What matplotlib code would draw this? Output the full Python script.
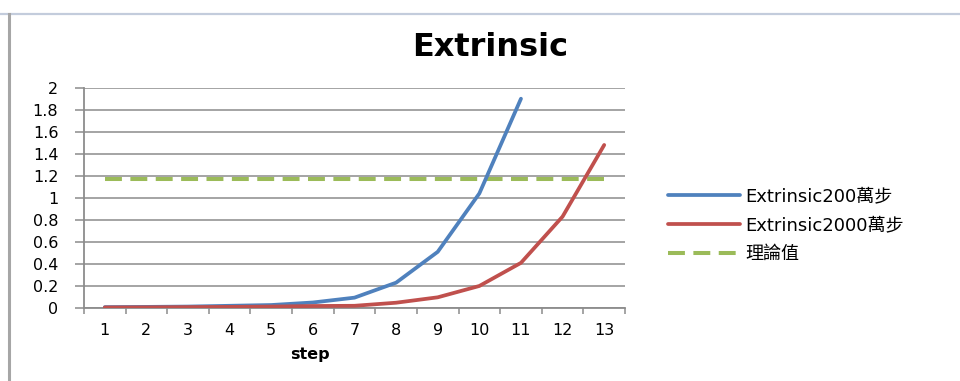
import numpy as np
import matplotlib
matplotlib.use("Agg")
import matplotlib.pyplot as plt
from matplotlib.lines import Line2D
from matplotlib.ticker import FixedLocator

plt.rcParams['font.family'] = ['DejaVu Sans', 'Noto Sans CJK TC']

steps = [str(i) for i in range(1, 14)]
ext_200 = [0.008, 0.01, 0.013, 0.02, 0.027, 0.05, 0.094, 0.23, 0.51, 1.04, 1.90]
ext_2000 = [0.005, 0.006, 0.008, 0.01, 0.013, 0.018, 0.02, 0.048, 0.097, 0.2, 0.41, 0.83, 1.48]
theory = [1.17] * 13
y_ticks = [0, 0.2, 0.4, 0.6, 0.8, 1, 1.2, 1.4, 1.6, 1.8, 2]
series_names = ["Extrinsic200萬步", "Extrinsic2000萬步", "理論值"]

BLUE = "#4F81BD"
RED = "#C0504D"
GREEN = "#9BBB59"
GRID = "#8C8C8C"

W, H = 960, 381
fig = plt.figure(figsize=(9.6, 3.81), dpi=100)
ax = fig.add_axes([84 / W, 1 - 308 / H, (625 - 84) / W, (308 - 87.7) / H])

x = np.arange(len(steps))
ax.plot(x[:len(ext_200)], ext_200, color=BLUE, lw=2.7, solid_capstyle="round",
        label=series_names[0], zorder=3)
ax.plot(x, ext_2000, color=RED, lw=2.7, solid_capstyle="round",
        label=series_names[1], zorder=3)
ax.plot(x, theory, color=GREEN, lw=2.9, dashes=(4.2, 2.1),
        label=series_names[2], zorder=2)

ax.set_xlim(-0.5, len(steps) - 0.5)
ax.set_ylim(0, 2)
ax.set_yticks(y_ticks)
ax.set_yticklabels(["%g" % v for v in y_ticks])
ax.grid(axis="y", color=GRID, lw=1.1)
ax.set_axisbelow(True)

ax.set_xticks(x)
ax.set_xticklabels(steps)
ax.xaxis.set_minor_locator(FixedLocator(np.arange(-0.5, len(steps), 1)))
ax.tick_params(axis="x", which="major", length=0, pad=11, labelsize=11.5, colors="black")
ax.tick_params(axis="x", which="minor", length=4, width=1.1, color=GRID)
ax.tick_params(axis="y", length=6.5, width=1.1, color=GRID, pad=12, labelsize=11.5)

for side in ("top", "right"):
    ax.spines[side].set_visible(False)
for side in ("left", "bottom"):
    ax.spines[side].set_color(GRID)
    ax.spines[side].set_linewidth(1.3)

fig.text(490 / W, 1 - 47 / H, "Extrinsic", ha="center", va="center",
         fontsize=23, fontweight="bold")
fig.text(310 / W, 1 - 355 / H, "step", ha="center", va="center",
         fontsize=11.5, fontweight="bold")

ax.legend(loc="center left", bbox_to_anchor=(668 / W, 1 - 225 / H),
          bbox_transform=fig.transFigure, frameon=False, fontsize=13,
          handlelength=4.0, handletextpad=0.3, labelspacing=0.6,
          borderpad=0, borderaxespad=0)

# worksheet frame around the chart object
fig.add_artist(Line2D([0, 1], [1 - 14 / H, 1 - 14 / H], color="#C3CCDC", lw=1.6))
fig.add_artist(Line2D([9 / W, 9 / W], [0, 1 - 14 / H], color="#A6A6A6", lw=2.2))

fig.savefig("out.png", dpi=100)
